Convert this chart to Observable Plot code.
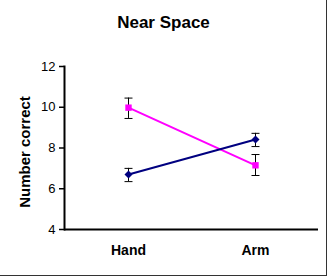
<!DOCTYPE html>
<html>
<head>
<meta charset="utf-8">
<script src="https://cdn.jsdelivr.net/npm/d3@7"></script>
<script src="https://cdn.jsdelivr.net/npm/@observablehq/plot@0.6"></script>
<style>
  html, body { margin: 0; padding: 0; background: #fff; }
  #wrap { position: relative; width: 330px; height: 278px; overflow: hidden; }
  #frame { position: absolute; left: -2px; top: -2px; width: 329px; height: 278px; border: 1.5px solid #333; box-sizing: border-box; pointer-events: none; }
</style>
</head>
<body>
<div id="wrap"><div id="frame"></div></div>
<script>
const categories = ["Hand", "Arm"];
const seriesNames = ["Series 1", "Series 2"];
const pinkMean = [9.98, 7.15];
const pinkLow = [9.45, 6.65];
const pinkHigh = [10.45, 7.68];
const blueMean = [6.7, 8.42];
const blueLow = [6.35, 8.07];
const blueHigh = [7.0, 8.72];
const yTicks = [4, 6, 8, 10, 12];
const colors = ["#ff00ff", "#000080"];
const symbols = ["square", "diamond2"];

const rows = [];
categories.forEach((c, i) => {
  rows.push({cat: c, series: seriesNames[0], mean: pinkMean[i], lo: pinkLow[i], hi: pinkHigh[i]});
  rows.push({cat: c, series: seriesNames[1], mean: blueMean[i], lo: blueLow[i], hi: blueHigh[i]});
});

const capSymbol = {
  draw(ctx, size) {
    const r = Math.sqrt(size) / 2;
    ctx.moveTo(-r, 0);
    ctx.lineTo(r, 0);
  }
};

const font = "'Liberation Sans', Arial, sans-serif";

const chart = Plot.plot({
  width: 330,
  height: 278,
  marginLeft: 64,
  marginRight: 12,
  marginTop: 66,
  marginBottom: 49,
  style: {fontFamily: font, fontSize: "12px", color: "#000", background: "transparent"},
  x: {type: "point", domain: categories, padding: 0.5},
  y: {domain: [4, 12]},
  color: {domain: seriesNames, range: colors},
  symbol: {domain: seriesNames, range: symbols},
  marks: [
    Plot.frame({anchor: "left", stroke: "#000", strokeWidth: 2}),
    Plot.ruleY([4], {stroke: "#000", strokeWidth: 2}),
    Plot.axisY({ticks: yTicks, tickSize: 5, tickPadding: 4, label: null, fontSize: 13, strokeWidth: 1.5, stroke: "#000"}),
    Plot.axisX({tickSize: 0, tickPadding: 16, label: null, fontWeight: "bold", fontSize: 14}),
    Plot.text(["Number correct"], {frameAnchor: "left", dx: -39, dy: 4, rotate: -90, textAnchor: "middle", fontWeight: "bold", fontSize: 15, fill: "#000"}),
    Plot.text(["Near Space"], {frameAnchor: "top", dx: -28, dy: -51, fontWeight: "bold", fontSize: 17, fill: "#000"}),
    Plot.ruleX(rows, {x: "cat", y1: "lo", y2: "hi", stroke: "#000", strokeWidth: 1}),
    Plot.dot(rows, {x: "cat", y: "lo", symbol: () => capSymbol, r: 4.5, stroke: "#000", strokeWidth: 1}),
    Plot.dot(rows, {x: "cat", y: "hi", symbol: () => capSymbol, r: 4.5, stroke: "#000", strokeWidth: 1}),
    Plot.line(rows, {x: "cat", y: "mean", z: "series", stroke: "series", strokeWidth: 2}),
    Plot.dot(rows, {x: "cat", y: "mean", symbol: "series", fill: "series", r: 3.6, stroke: null})
  ]
});
document.getElementById("wrap").prepend(chart);
</script>
</body>
</html>
